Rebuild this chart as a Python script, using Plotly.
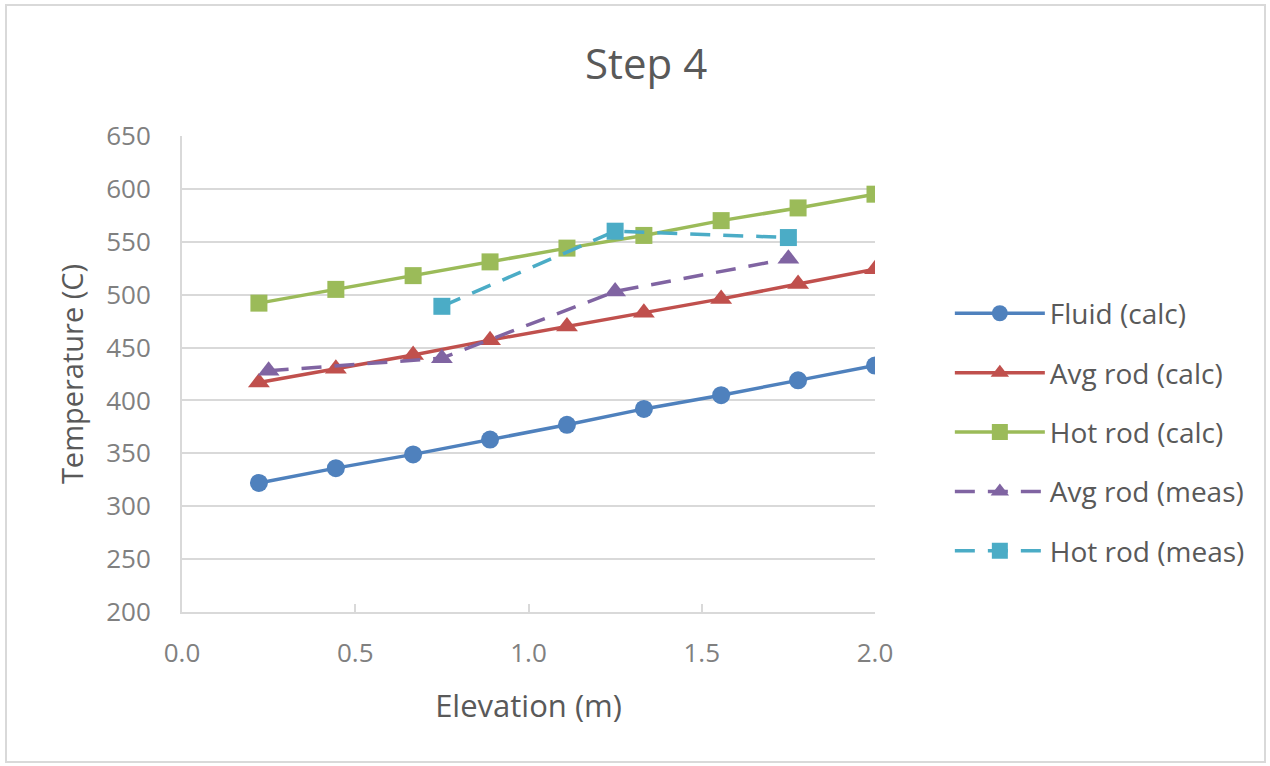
import plotly.graph_objects as go

# Elevation stations (m)
calc_elev = [0.222, 0.444, 0.667, 0.889, 1.111, 1.333, 1.556, 1.778, 2.0]
meas_avg_elev = [0.25, 0.75, 1.25, 1.75]
meas_hot_elev = [0.75, 1.25, 1.75]

# Temperatures (C)
fluid_calc = [322, 336, 349, 363, 377, 392, 405, 419, 433]
avg_rod_calc = [417, 430, 443, 457, 470, 483, 496, 510, 524]
hot_rod_calc = [492, 505, 518, 531, 544, 556, 570, 582, 595]
avg_rod_meas = [428, 440, 503, 534]
hot_rod_meas = [489, 560, 554]

x_ticks = [0.0, 0.5, 1.0, 1.5, 2.0]
x_tick_text = ["0.0", "0.5", "1.0", "1.5", "2.0"]
y_ticks = [200, 250, 300, 350, 400, 450, 500, 550, 600, 650]

FONT = "'Open Sans', Lato, sans-serif"
TXT = "#595959"
TICK = "#808080"

series = [
    dict(name="Fluid (calc)", x=calc_elev, y=fluid_calc, color="#4F81BD",
         symbol="circle", size=18, dash="solid"),
    dict(name="Avg rod (calc)", x=calc_elev, y=avg_rod_calc, color="#C0504D",
         symbol="triangle-up", size=19, dash="solid"),
    dict(name="Hot rod (calc)", x=calc_elev, y=hot_rod_calc, color="#9BBB59",
         symbol="square", size=17, dash="solid"),
    dict(name="Avg rod (meas)", x=meas_avg_elev, y=avg_rod_meas, color="#8064A2",
         symbol="triangle-up", size=19, dash="20px,13px"),
    dict(name="Hot rod (meas)", x=meas_hot_elev, y=hot_rod_meas, color="#4BACC6",
         symbol="square", size=17, dash="20px,13px"),
]

fig = go.Figure()
for i, s in enumerate(series):
    fig.add_trace(go.Scatter(
        x=s["x"], y=s["y"], name=s["name"], mode="lines+markers",
        legendgroup=f"g{i}",
        line=dict(color=s["color"], width=3.5, dash=s["dash"]),
        marker=dict(color=s["color"], symbol=s["symbol"], size=s["size"],
                    line=dict(width=0)),
    ))

fig.update_layout(
    width=1270, height=766,
    margin=dict(l=182, r=395, t=136, b=154),
    paper_bgcolor="white", plot_bgcolor="white",
    font=dict(family=FONT, color=TXT, size=24),
    title=dict(text="Step 4", x=0.5087, xanchor="center", y=0.916,
               yanchor="middle", yref="container",
               font=dict(family=FONT, size=42, color=TXT)),
    showlegend=True,
    legend=dict(x=1.108, xanchor="left", y=0.378, yanchor="middle",
                font=dict(family=FONT, size=28, color=TXT),
                tracegroupgap=20, itemwidth=90, bgcolor="rgba(0,0,0,0)"),
    xaxis=dict(range=[0, 2.0], tickvals=x_ticks, ticktext=x_tick_text,
               showgrid=False, zeroline=False, showline=True,
               linecolor="#D9D9D9", linewidth=2, ticks="inside",
               ticklen=8, tickwidth=2, tickcolor="#D9D9D9",
               ticklabelstandoff=17,
               tickfont=dict(family=FONT, size=26, color=TICK),
               title=dict(text="Elevation (m)", standoff=26,
                          font=dict(family=FONT, size=31, color=TXT))),
    yaxis=dict(range=[200, 650], tickvals=y_ticks,
               showgrid=True, gridcolor="#D9D9D9", gridwidth=2,
               zeroline=False, showline=True, linecolor="#D9D9D9",
               linewidth=2, ticks="", ticklabelstandoff=24,
               tickfont=dict(family=FONT, size=26, color=TICK),
               title=dict(text="Temperature (C)", standoff=14,
                          font=dict(family=FONT, size=29, color=TXT))),
    shapes=[dict(type="rect", xref="paper", yref="paper",
                 x0=(6 - 182) / 693, x1=(1265 - 182) / 693,
                 y0=(612 - 762) / 476, y1=(612 - 5) / 476,
                 line=dict(color="#D9D9D9", width=2), layer="below")],
)

fig.write_html("out.html")
